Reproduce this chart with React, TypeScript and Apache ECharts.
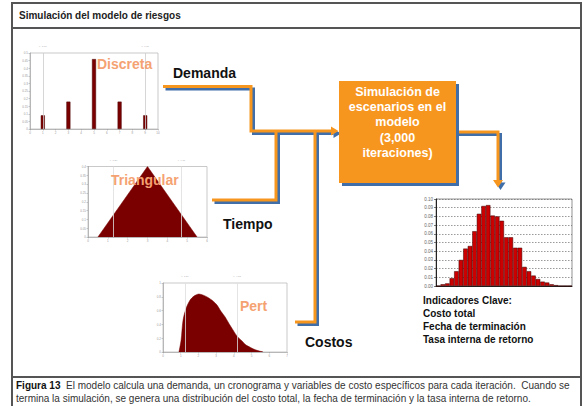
import React, { useEffect, useRef } from "react";
import * as echarts from "echarts";

// ---- data ----
const discreteX = [1, 3, 5, 7, 9];
const discreteP = [0.09, 0.18, 0.46, 0.18, 0.09];
const discretePct = [1, 9];

const triX = [0.5, 3, 5.5];
const triY = [0, 0.4, 0];
const triPct = [1.29, 4.71];

const pertX = [0.9, 1.02, 1.13, 1.3, 1.52, 1.75, 2.03, 2.31, 2.54, 2.82, 3.05, 3.27, 3.5, 3.73, 3.95, 4.18, 4.46, 4.69, 4.91, 5.14, 5.36, 5.65];
const pertY = [0, 0.17, 0.46, 0.63, 0.75, 0.81, 0.84, 0.82, 0.79, 0.74, 0.68, 0.59, 0.51, 0.41, 0.32, 0.23, 0.16, 0.1, 0.07, 0.04, 0.02, 0];
const pertPct = [1.24, 4.18];

const histBins = Array.from({ length: 30 }, (_, i) => String(i + 1));
const histValues = [0, 0.002, 0.003, 0.009, 0.017, 0.03, 0.043, 0.046, 0.063, 0.083, 0.092, 0.093, 0.081, 0.08, 0.075, 0.056, 0.056, 0.044, 0.044, 0.022, 0.017, 0.012, 0.008, 0.005, 0.004, 0.002, 0.001, 0, 0, 0];

const titleText = "Simulación del modelo de riesgos";
const boxLines = ["Simulación de", "escenarios en el", "modelo", "(3,000", "iteraciones)"];
const indicadores = ["Indicadores Clave:", "Costo total", "Fecha de terminación", "Tasa interna de retorno"];
const captionLine1 = "El modelo calcula una demanda, un cronograma y variables de costo específicos para cada iteración.  Cuando se";
const captionLine2 = "termina la simulación, se genera una distribución del costo total, la fecha de terminación y la tasa interna de retorno.";

const FONT = "'Liberation Sans', Arial, sans-serif";
const ORANGE = "#F7961E";
const BLUE = "#3F6EA8";
const SALMON = "#F5A272";
const MAROON = "#7A0000";

function smallX(gridIndex: number, min: number, max: number, interval: number) {
  return {
    type: "value", gridIndex, min, max, interval,
    axisLine: { show: true, lineStyle: { color: "#999", width: 0.6 } },
    axisTick: { show: true, length: 1.5, lineStyle: { color: "#999", width: 0.5 } },
    axisLabel: { fontSize: 3, color: "#999", margin: 2, fontFamily: FONT },
    splitLine: { show: false },
  };
}
function smallY(gridIndex: number, min: number, max: number, interval: number) {
  return {
    type: "value", gridIndex, min, max, interval,
    axisLine: { show: true, lineStyle: { color: "#999", width: 0.6 } },
    axisTick: { show: true, length: 1.5, lineStyle: { color: "#999", width: 0.5 } },
    axisLabel: { fontSize: 3, color: "#999", margin: 2, fontFamily: FONT },
    splitLine: { show: false },
  };
}
function pctLines(vals: number[], color: string) {
  return {
    silent: true,
    symbol: "none",
    lineStyle: { color, width: 0.8, type: "solid" },
    label: { show: true, position: "end", fontSize: 2.5, color: "#aaa", formatter: (p: any) => "x=" + Number(p.value).toFixed(2) },
    data: vals.map((v) => ({ xAxis: v })),
  };
}

function shadowed(points: number[][], arrow?: number[][]) {
  const off = (pts: number[][]) => pts.map(([x, y]) => [x + 2.5, y + 2.5]);
  const els: any[] = [
    { type: "polyline", shape: { points: off(points) }, style: { stroke: BLUE, lineWidth: 3, fill: null }, z: 10 },
  ];
  if (arrow) els.push({ type: "polygon", shape: { points: off(arrow) }, style: { fill: BLUE }, z: 10 });
  els.push({ type: "polyline", shape: { points }, style: { stroke: ORANGE, lineWidth: 3, fill: null }, z: 11 });
  if (arrow) els.push({ type: "polygon", shape: { points: arrow }, style: { fill: ORANGE }, z: 11 });
  return els;
}

function txt(text: string, x: number, y: number, size: number, color: string, bold: boolean, align = "left") {
  return {
    type: "text", x, y, z: 20,
    style: {
      text, fill: color, fontSize: size, fontWeight: bold ? "bold" : "normal", fontFamily: FONT,
      align, verticalAlign: "middle", textAlign: align, textVerticalAlign: "middle",
    },
  };
}

export default function App() {
  const ref = useRef<HTMLDivElement>(null);
  useEffect(() => {
    const chart = echarts.init(ref.current!, null, { renderer: "svg" });
    const graphic: any[] = [
      // frame
      { type: "rect", shape: { x: 12, y: 3, width: 569, height: 374 }, style: { fill: null, stroke: "#555", lineWidth: 2 }, z: 5 },
      { type: "line", shape: { x1: 12, y1: 28, x2: 581, y2: 28 }, style: { stroke: "#555", lineWidth: 2 }, z: 5 },
      { type: "line", shape: { x1: 12, y1: 377, x2: 12, y2: 406 }, style: { stroke: "#555", lineWidth: 2 }, z: 5 },
      { type: "line", shape: { x1: 581, y1: 377, x2: 581, y2: 406 }, style: { stroke: "#555", lineWidth: 2 }, z: 5 },
      txt(titleText, 19, 15.5, 10, "#222", true),
      // connectors
      ...shadowed([[163, 86.5], [251, 86.5], [251, 131], [331, 131]], [[331, 126.5], [338.5, 131], [331, 135.5]]),
      ...shadowed([[212, 200], [276, 200], [276, 131]]),
      ...shadowed([[295, 322], [315, 322], [315, 131]]),
      ...shadowed([[456, 132], [498, 132], [498, 180]], [[493, 180], [498, 187.5], [503, 180]]),
      // box
      { type: "rect", shape: { x: 342, y: 84, width: 117, height: 102 }, style: { fill: BLUE }, z: 12 },
      { type: "rect", shape: { x: 339, y: 81, width: 117, height: 102 }, style: { fill: ORANGE }, z: 13 },
      ...boxLines.map((t, i) => txt(t, 397.5, [91.5, 106.5, 122, 137.5, 153][i], 12.5, "#fff", true, "center")),
      // labels
      txt("Discreta", 97, 64, 14, SALMON, true),
      txt("Triangular", 111, 180, 14, SALMON, true),
      txt("Pert", 240, 306, 14, SALMON, true),
      txt("Demanda", 173, 73, 14, "#111", true),
      txt("Tiempo", 223, 224, 14, "#111", true),
      txt("Costos", 305, 342, 14, "#111", true),
      ...indicadores.map((t, i) => txt(t, 423, 300 + i * 13.2, 10, "#111", true)),
      // caption
      {
        type: "text", x: 16, y: 385, z: 20,
        style: {
          text: "{b|Figura 13}  " + captionLine1, fill: "#333", fontSize: 10, fontFamily: FONT,
          verticalAlign: "middle", textVerticalAlign: "middle",
          rich: { b: { fontWeight: "bold", fontSize: 10, fill: "#111", fontFamily: FONT } },
        },
      },
      txt(captionLine2, 16, 398, 10, "#333", false),
    ];

    const option: any = {
      animation: false,
      backgroundColor: "#fff",
      grid: [
        { left: 30, top: 53, width: 128, height: 76, show: true, borderColor: "#bbb", borderWidth: 0.8 },
        { left: 88, top: 166.5, width: 119, height: 70.5, show: true, borderColor: "#bbb", borderWidth: 0.8 },
        { left: 163, top: 283, width: 124, height: 69, show: true, borderColor: "#bbb", borderWidth: 0.8 },
        { left: 436, top: 199, width: 136, height: 87, show: true, borderColor: "#777", borderWidth: 0.8 },
      ],
      xAxis: [
        smallX(0, 0, 10, 1),
        smallX(1, 0, 6, 1),
        smallX(2, 0, 7, 1),
        {
          type: "category", gridIndex: 3, data: histBins, boundaryGap: true,
          axisLine: { show: true, lineStyle: { color: "#222", width: 1 } },
          axisTick: { show: false }, axisLabel: { show: false },
        },
      ],
      yAxis: [
        smallY(0, 0, 0.5, 0.05),
        smallY(1, 0, 0.4, 0.05),
        smallY(2, 0, 1, 0.2),
        {
          type: "value", gridIndex: 3, min: 0, max: 0.1, interval: 0.01,
          axisLine: { show: true, lineStyle: { color: "#222", width: 1 } },
          axisTick: { show: true, length: 2, lineStyle: { color: "#222", width: 0.6 } },
          axisLabel: { fontSize: 4.5, color: "#666", margin: 3, fontFamily: FONT, formatter: (v: number) => v.toFixed(2) },
          splitLine: { show: true, lineStyle: { color: "#555", width: 0.6, type: [1.5, 1.5] } },
        },
      ],
      series: [
        {
          type: "bar", xAxisIndex: 0, yAxisIndex: 0, barWidth: 4,
          data: discreteX.map((x, i) => [x, discreteP[i]]),
          itemStyle: { color: MAROON, borderColor: "#4a0000", borderWidth: 0.5 },
          markLine: pctLines(discretePct, "#ccc"),
        },
        {
          type: "line", xAxisIndex: 1, yAxisIndex: 1, symbol: "none",
          data: triX.map((x, i) => [x, triY[i]]),
          lineStyle: { width: 0.5, color: MAROON },
          areaStyle: { color: MAROON, opacity: 1 },
          markLine: pctLines(triPct, "#ddd"),
        },
        {
          type: "line", xAxisIndex: 2, yAxisIndex: 2, symbol: "none", smooth: 0.3,
          data: pertX.map((x, i) => [x, pertY[i]]),
          lineStyle: { width: 0.5, color: MAROON },
          areaStyle: { color: MAROON, opacity: 1 },
          markLine: pctLines(pertPct, "#ddd"),
        },
        {
          type: "bar", xAxisIndex: 3, yAxisIndex: 3, barCategoryGap: "0%",
          data: histValues,
          itemStyle: { color: "#CC0000", borderColor: "#3a0000", borderWidth: 0.5 },
        },
      ],
      graphic,
    };
    chart.setOption(option);
    return () => chart.dispose();
  }, []);
  return <div ref={ref} style={{ position: "absolute", left: 0, top: 0, width: 585, height: 406, background: "#fff" }} />;
}
